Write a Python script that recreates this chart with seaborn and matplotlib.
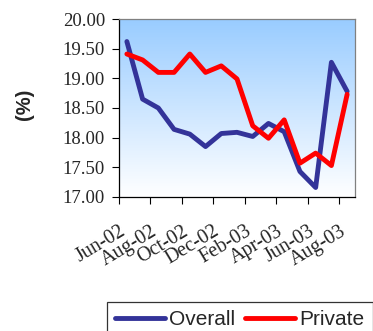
import numpy as np
import pandas as pd
import matplotlib
matplotlib.use("Agg")
import matplotlib.pyplot as plt
from matplotlib.transforms import ScaledTranslation
import seaborn as sns

months = ["Jun-02", "Jul-02", "Aug-02", "Sep-02", "Oct-02", "Nov-02", "Dec-02",
          "Jan-03", "Feb-03", "Mar-03", "Apr-03", "May-03", "Jun-03", "Jul-03", "Aug-03"]
overall = [19.62, 18.65, 18.50, 18.14, 18.06, 17.85, 18.07, 18.09,
           18.02, 18.24, 18.10, 17.43, 17.16, 19.27, 18.78]
private = [19.41, 19.31, 19.10, 19.10, 19.41, 19.10, 19.21, 18.99,
           18.20, 17.99, 18.30, 17.57, 17.74, 17.53, 18.73]
tick_labels = ["Jun-02", "Aug-02", "Oct-02", "Dec-02", "Feb-03", "Apr-03", "Jun-03", "Aug-03"]
y_ticks = [17.0, 17.5, 18.0, 18.5, 19.0, 19.5, 20.0]

df = pd.DataFrame({
    "idx": list(range(len(months))) * 2,
    "value": overall + private,
    "series": ["Overall"] * len(months) + ["Private"] * len(months),
})

sns.set_style("white")
fig = plt.figure(figsize=(3.73, 3.31), dpi=100)
ax = fig.add_axes([119 / 373, 1 - 197 / 331, 236 / 373, 178 / 331])

# vertical gradient backdrop: light blue at top fading to white
grad = np.linspace(0, 1, 256).reshape(-1, 1)
top = np.array([153, 204, 255]) / 255
bot = np.array([255, 255, 255]) / 255
img = bot + (top - bot) * grad[:, :, None] * np.ones((1, 1, 3))
ax.imshow(img, extent=(-0.5, len(months) - 0.5, 17.0, 20.0), origin="lower",
          aspect="auto", zorder=0)

sns.lineplot(data=df, x="idx", y="value", hue="series",
             palette={"Overall": "#333399", "Private": "#FF0000"},
             linewidth=3.5, sort=False, ax=ax, legend=False, zorder=3)

ax.set_xlim(-0.5, len(months) - 0.5)
ax.set_ylim(17.0, 20.0)
ax.set_yticks(y_ticks)
ax.set_yticklabels([f"{v:.2f}" for v in y_ticks], family="Liberation Serif", fontsize=13.5)
ax.set_xticks(np.arange(-0.5, len(months) - 1, 2))
ax.set_xticklabels(tick_labels, family="Liberation Serif", fontsize=14.5,
                   rotation=31, ha="right", va="top", rotation_mode="anchor")
for lab in ax.get_xticklabels():
    lab.set_transform(lab.get_transform() + ScaledTranslation(-0.09, 0, fig.dpi_scale_trans))

ax.tick_params(axis="both", direction="out", length=5, width=0.8, color="black",
               left=True, bottom=True)
ax.tick_params(axis="y", pad=5)
ax.tick_params(axis="x", pad=13)
for side in ("left", "bottom"):
    ax.spines[side].set_color("black")
    ax.spines[side].set_linewidth(0.9)
for side in ("top", "right"):
    ax.spines[side].set_color("#808080")
    ax.spines[side].set_linewidth(0.9)

ax.set_xlabel("")
ax.set_ylabel("(%)", family="Liberation Sans", fontsize=14.5, fontweight="bold")
ax.yaxis.set_label_coords(-0.362, 0.52)

handles = [plt.Line2D([], [], color="#333399", linewidth=3.5),
           plt.Line2D([], [], color="#FF0000", linewidth=3.5)]
leg = fig.legend(handles, ["Overall", "Private"], loc="upper left",
                 bbox_to_anchor=(107 / 373, 1 - 302 / 331), ncol=2,
                 prop={"family": "Liberation Sans", "size": 15},
                 frameon=True, fancybox=False, edgecolor="black",
                 borderpad=0.4, borderaxespad=0, handlelength=2.4,
                 handletextpad=0.2, columnspacing=0.45)
leg.get_frame().set_linewidth(0.9)

fig.savefig("out.png", dpi=100)
